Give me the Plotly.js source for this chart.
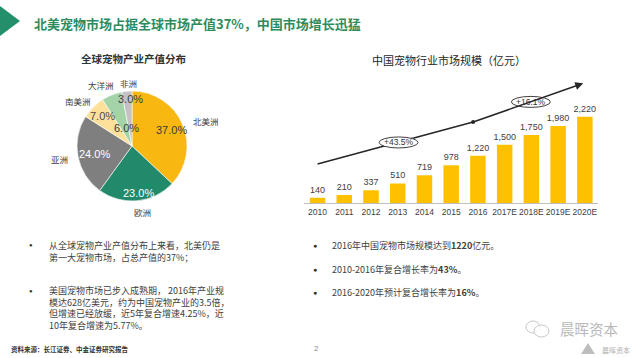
<!DOCTYPE html>
<html>
<head>
<meta charset="utf-8">
<script src="https://cdn.plot.ly/plotly-3.0.1.min.js"></script>
<style>html,body{margin:0;padding:0;background:#fff;}#chart{width:640px;height:358px;}</style>
</head>
<body>
<div id="chart"></div>
<script>
// ---- data ----
const regions = ['北美洲', '欧洲', '亚洲', '南美洲', '大洋洲', '非洲'];
const shares = [37, 23, 24, 7, 6, 3];
const years = ['2010', '2011', '2012', '2013', '2014', '2015', '2016', '2017E', '2018E', '2019E', '2020E'];
const marketSize = [140, 210, 337, 510, 719, 978, 1220, 1500, 1750, 1980, 2220];
const growthLabels = ['+43.5%', '+16.1%'];

// ---- helpers ----
const W = 640, H = 358;
const px = x => x / W;
const py = y => 1 - y / H;
const CJK = '"Noto Sans CJK SC", "Noto Sans", sans-serif';
const LAT = '"Liberation Sans", Arial, sans-serif';

const pieColors = ['#F9B712', '#22896A', '#7F7F7F', '#FDE19A', '#A3D3A6', '#C3C1C3'];
const pctColors = ['#3A3A3A', '#FFFFFF', '#FFFFFF', '#4A4A4A', '#3A3A3A', '#3A3A3A'];
const pctPos = [[171, 130], [138, 193], [94, 154], [102, 116], [126, 128], [130, 99]];
const regionPos = [[191, 121, 'left'], [142, 212, 'center'], [70, 159, 'right'], [78, 101, 'center'], [101, 85, 'center'], [128, 83, 'center']];

const traces = [
  {
    type: 'pie',
    labels: regions,
    values: shares,
    sort: false,
    direction: 'clockwise',
    rotation: 0,
    textinfo: 'none',
    hoverinfo: 'label+percent',
    marker: {colors: pieColors, line: {color: '#FFFFFF', width: 0.6}},
    domain: {x: [px(77), px(187)], y: [py(201), py(91)]},
    showlegend: false
  },
  {
    type: 'bar',
    x: years,
    y: marketSize,
    marker: {color: '#FFC000'},
    text: marketSize.map(v => v.toLocaleString('en-US')),
    textposition: 'outside',
    constraintext: 'none',
    cliponaxis: false,
    textfont: {family: LAT, size: 9, color: '#404040'},
    xaxis: 'x', yaxis: 'y',
    showlegend: false,
    hoverinfo: 'x+y'
  }
];

const annotations = [];
const shapes = [];

// header
shapes.push({type: 'path', xref: 'paper', yref: 'paper',
  path: `M ${px(0)},${py(6)} L ${px(20)},${py(21)} L ${px(0)},${py(36)} Z`,
  fillcolor: '#23906B', line: {width: 0}});
annotations.push({xref: 'paper', yref: 'paper', x: px(32), y: py(23), xanchor: 'left', yanchor: 'middle',
  text: '<b>北美宠物市场占据全球市场产值37%，中国市场增长迅猛</b>', showarrow: false,
  font: {family: CJK, size: 13, color: '#2E8C5C'}});

// pie title
annotations.push({xref: 'paper', yref: 'paper', x: px(133), y: py(58), xanchor: 'center', yanchor: 'middle',
  text: '<b>全球宠物产业产值分布</b>', showarrow: false, font: {family: CJK, size: 10.5, color: '#333333'}});

// pie labels
regions.forEach((r, i) => {
  const p = regionPos[i];
  annotations.push({xref: 'paper', yref: 'paper', x: px(p[0]), y: py(p[1]), xanchor: p[2], yanchor: 'middle',
    text: r, showarrow: false, font: {family: CJK, size: 8.5, color: '#404040'}});
  annotations.push({xref: 'paper', yref: 'paper', x: px(pctPos[i][0]), y: py(pctPos[i][1]), xanchor: 'center', yanchor: 'middle',
    text: shares[i].toFixed(1) + '%', showarrow: false, font: {family: LAT, size: 11, color: pctColors[i]}});
});

// bar title
annotations.push({xref: 'paper', yref: 'paper', x: px(449), y: py(60), xanchor: 'center', yanchor: 'middle',
  text: '中国宠物行业市场规模（亿元）', showarrow: false, font: {family: CJK, size: 11, color: '#262626'}});

// growth arrow (in data coordinates of the bar axes)
const arrowPts = [[0, 1008], [5.82, 2085], [9.94, 3077]];
shapes.push({type: 'line', xref: 'x', yref: 'y', x0: arrowPts[0][0], y0: arrowPts[0][1], x1: arrowPts[1][0], y1: arrowPts[1][1],
  line: {color: '#262626', width: 1.6}});
annotations.push({xref: 'x', yref: 'y', axref: 'x', ayref: 'y', x: arrowPts[2][0], y: arrowPts[2][1],
  ax: arrowPts[1][0], ay: arrowPts[1][1], text: '', showarrow: true, arrowhead: 2, arrowsize: 1, arrowwidth: 1.6, arrowcolor: '#262626'});
shapes.push({type: 'circle', xref: 'x', yref: 'y', xsizemode: 'pixel', ysizemode: 'pixel',
  xanchor: arrowPts[1][0], yanchor: arrowPts[1][1], x0: -2, x1: 2, y0: -2, y1: 2, fillcolor: '#262626', line: {width: 0}});

const ellipsePos = [[3.03, 1560], [7.98, 2600]];
growthLabels.forEach((g, i) => {
  const e = ellipsePos[i];
  shapes.push({type: 'circle', xref: 'x', yref: 'y', xsizemode: 'pixel', ysizemode: 'pixel',
    xanchor: e[0], yanchor: e[1], x0: -19.5, x1: 19.5, y0: -5.5, y1: 5.5,
    fillcolor: '#FFFFFF', line: {color: '#404040', width: 1}});
  annotations.push({xref: 'x', yref: 'y', x: e[0], y: e[1], xanchor: 'center', yanchor: 'middle',
    text: g, showarrow: false, font: {family: LAT, size: 8.5, color: '#333333'}});
});

// left bullets
const leftParas = [
  [251, '从全球宠物产业产值分布上来看，北美仍是<br>第一大宠物市场，占总产值的37%；', 245],
  [308, '美国宠物市场已步入成熟期， 2016年产业规<br>模达628亿美元，约为中国宠物产业的3.5倍，<br>但增速已经放缓，近5年复合增速4.25%，近<br>10年复合增速为5.77%。', 290.5]
];
leftParas.forEach(l => {
  annotations.push({xref: 'paper', yref: 'paper', x: px(31), y: py(l[2]), xanchor: 'center', yanchor: 'middle',
    text: '●', showarrow: false, font: {family: LAT, size: 6, color: '#333333'}});
  annotations.push({xref: 'paper', yref: 'paper', x: px(47), y: py(l[0]), xanchor: 'left', yanchor: 'middle', align: 'left',
    text: l[1], showarrow: false, font: {family: CJK, size: 9, color: '#404040'}});
});

// right bullets
const rightLines = [
  [245, '2016年中国宠物市场规模达到<b>1220</b>亿元。'],
  [269, '2010-2016年复合增长率为<b>43%</b>。'],
  [292, '2016-2020年预计复合增长率为<b>16%</b>。']
];
rightLines.forEach(l => {
  annotations.push({xref: 'paper', yref: 'paper', x: px(315), y: py(l[0]), xanchor: 'center', yanchor: 'middle',
    text: '●', showarrow: false, font: {family: LAT, size: 7, color: '#333333'}});
  annotations.push({xref: 'paper', yref: 'paper', x: px(330), y: py(l[0]), xanchor: 'left', yanchor: 'middle',
    text: l[1], showarrow: false, font: {family: CJK, size: 9, color: '#404040'}});
});

// footer
annotations.push({xref: 'paper', yref: 'paper', x: px(9), y: py(349), xanchor: 'left', yanchor: 'middle',
  text: '<b>资料来源：长江证券、中金证券研究报告</b>', showarrow: false, font: {family: CJK, size: 6.5, color: '#333333'}});
annotations.push({xref: 'paper', yref: 'paper', x: px(316), y: py(348), xanchor: 'center', yanchor: 'middle',
  text: '2', showarrow: false, font: {family: LAT, size: 8, color: '#8C8C8C'}});

// watermark
shapes.push({type: 'circle', xref: 'paper', yref: 'paper', x0: px(526), x1: px(540), y0: py(333), y1: py(321),
  line: {color: '#C8C8C8', width: 1}, fillcolor: 'rgba(0,0,0,0)'});
shapes.push({type: 'circle', xref: 'paper', yref: 'paper', x0: px(534), x1: px(549), y0: py(337), y1: py(325),
  line: {color: '#C8C8C8', width: 1}, fillcolor: 'rgba(255,255,255,0.8)'});
annotations.push({xref: 'paper', yref: 'paper', x: px(589), y: py(328), xanchor: 'center', yanchor: 'middle',
  text: '晨晖资本', showarrow: false, font: {family: CJK, size: 14.5, color: '#B8B8B8'}});
shapes.push({type: 'path', xref: 'paper', yref: 'paper',
  path: `M ${px(581)},${py(354)} L ${px(588)},${py(343)} L ${px(595)},${py(354)} Z`,
  fillcolor: '#BDBDBD', line: {width: 0}});
annotations.push({xref: 'paper', yref: 'paper', x: px(600), y: py(350), xanchor: 'left', yanchor: 'middle',
  text: '晨晖资本', showarrow: false, font: {family: CJK, size: 7, color: '#B0B0B0'}});

const layout = {
  width: W, height: H,
  margin: {l: 0, r: 0, t: 0, b: 0},
  paper_bgcolor: '#FFFFFF', plot_bgcolor: 'rgba(0,0,0,0)',
  showlegend: false,
  bargap: 0.42,
  xaxis: {
    domain: [px(304.2), px(598.2)],
    anchor: 'y',
    type: 'category',
    showgrid: false, zeroline: false,
    showline: true, linecolor: '#BFBFBF', linewidth: 1,
    ticks: '', ticklen: 0, tickangle: 0,
    tickfont: {family: LAT, size: 8.5, color: '#404040'},
    fixedrange: true
  },
  yaxis: {
    domain: [py(203.3), py(66.8)],
    anchor: 'x',
    range: [0, 3500],
    visible: false,
    showgrid: false, zeroline: false,
    fixedrange: true
  },
  annotations: annotations,
  shapes: shapes
};

Plotly.newPlot('chart', traces, layout, {displayModeBar: false, staticPlot: true});
</script>
</body>
</html>
